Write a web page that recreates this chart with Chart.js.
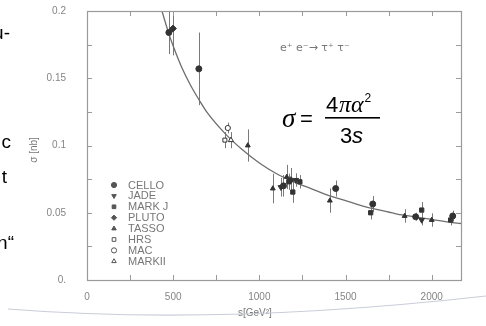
<!DOCTYPE html>
<html>
<head>
<meta charset="utf-8">
<script src="https://cdn.jsdelivr.net/npm/chart.js@4.4.1/dist/chart.umd.min.js"></script>
<style>
  html, body { margin: 0; padding: 0; background: #fff; }
  canvas { display: block; }
</style>
</head>
<body>
<canvas id="chart" width="486" height="326"></canvas>
<script>
// tick labels
const xLabels = [0, 500, 1000, 1500, 2000];
const yLabels = ['0.', '0.05', '0.1', '0.15', '0.2'];

// experiments: s [GeV^2], sigma [nb], error [nb]
const celloS = [475, 649, 1140, 1443, 1658, 1907, 2122];
const celloSig = [0.184, 0.157, 0.070, 0.068, 0.0565, 0.047, 0.0476];
const celloErr = [0.016, 0.027, 0.008, 0.006, 0.006, 0.003, 0.004];

const jadeS = [1125, 1212, 1942];
const jadeSig = [0.069, 0.0743, 0.0446];
const jadeErr = [0.007, 0.005, 0.004];

const markjS = [1171, 1194, 1235, 1646, 1942, 2110];
const markjSig = [0.073, 0.0654, 0.073, 0.050, 0.052, 0.0446];
const markjErr = [0.006, 0.008, 0.005, 0.005, 0.006, 0.004];

const plutoS = [499, 1183];
const plutoSig = [0.187, 0.0743];
const plutoErr = [0.02, 0.009];

const tassoS = [933, 1078, 1159, 1409, 1843, 2000];
const tassoSig = [0.100, 0.068, 0.0766, 0.059, 0.0476, 0.0446];
const tassoErr = [0.012, 0.011, 0.009, 0.009, 0.005, 0.005];

const hrsS = [800];
const hrsSig = [0.104];
const hrsErr = [0.006];

const macS = [817];
const macSig = [0.113];
const macErr = [0.004];

const mark2S = [835];
const mark2Sig = [0.104];
const mark2Err = [0.006];

// theory curve
const curveS = [435, 475, 500, 550, 600, 650, 700, 800, 900, 1000, 1100, 1200, 1300, 1400, 1500, 1600, 1700, 1800, 1900, 2000, 2100, 2170];
const curveSig = [0.2, 0.183, 0.174, 0.158, 0.145, 0.134, 0.124, 0.109, 0.097, 0.087, 0.079, 0.073, 0.068, 0.063, 0.059, 0.055, 0.052, 0.049, 0.047, 0.045, 0.043, 0.042];

const INK = '#333';
const GREY = '#858585';

function pts(xs, ys, es) {
  return xs.map((x, i) => ({ x: x, y: ys[i], e: es[i] }));
}

const experiments = [
  { label: 'CELLO', data: pts(celloS, celloSig, celloErr), pointStyle: 'circle', fill: true, r: 3, rot: 0 },
  { label: 'JADE', data: pts(jadeS, jadeSig, jadeErr), pointStyle: 'triangle', fill: true, r: 3.2, rot: 180 },
  { label: 'MARK J', data: pts(markjS, markjSig, markjErr), pointStyle: 'rect', fill: true, r: 3, rot: 0 },
  { label: 'PLUTO', data: pts(plutoS, plutoSig, plutoErr), pointStyle: 'rectRot', fill: true, r: 3.4, rot: 0 },
  { label: 'TASSO', data: pts(tassoS, tassoSig, tassoErr), pointStyle: 'triangle', fill: true, r: 2.8, rot: 0 },
  { label: 'HRS', data: pts(hrsS, hrsSig, hrsErr), pointStyle: 'rect', fill: false, r: 2.8, rot: 0 },
  { label: 'MAC', data: pts(macS, macSig, macErr), pointStyle: 'circle', fill: false, r: 2.6, rot: 0 },
  { label: 'MARKII', data: pts(mark2S, mark2Sig, mark2Err), pointStyle: 'triangle', fill: false, r: 3, rot: 0 }
];

const datasets = experiments.map(ex => ({
  type: 'scatter',
  label: ex.label,
  data: ex.data,
  pointStyle: ex.pointStyle,
  pointRadius: ex.r,
  rotation: ex.rot,
  backgroundColor: ex.fill ? INK : '#fff',
  borderColor: INK,
  borderWidth: 1
}));

datasets.push({
  type: 'line',
  label: 'theory',
  data: curveS.map((s, i) => ({ x: s, y: curveSig[i] })),
  borderColor: '#6e6e6e',
  borderWidth: 1.3,
  pointRadius: 0,
  fill: false,
  cubicInterpolationMode: 'monotone'
});

const decor = {
  id: 'decor',
  beforeDatasetsDraw(chart) {
    const ctx = chart.ctx, a = chart.chartArea;
    const xs = chart.scales.x, ys = chart.scales.y;
    ctx.save();
    ctx.beginPath();
    ctx.rect(a.left, a.top, a.right - a.left, a.bottom - a.top);
    ctx.clip();
    ctx.strokeStyle = '#7a7a7a';
    ctx.lineWidth = 1;
    experiments.forEach(ex => ex.data.forEach(p => {
      const px = Math.round(xs.getPixelForValue(p.x)) + 0.5;
      ctx.beginPath();
      ctx.moveTo(px, ys.getPixelForValue(p.y + p.e));
      ctx.lineTo(px, ys.getPixelForValue(p.y - p.e));
      ctx.stroke();
    }));
    ctx.restore();
  },
  afterDraw(chart) {
    const ctx = chart.ctx, a = chart.chartArea;
    const xs = chart.scales.x, ys = chart.scales.y;
    ctx.save();
    // frame
    ctx.strokeStyle = '#9a9a9a';
    ctx.lineWidth = 1.2;
    ctx.strokeRect(a.left + 0.5, a.top + 0.5, a.right - a.left, a.bottom - a.top);
    // inward ticks
    ctx.lineWidth = 1;
    xs.ticks.forEach(t => {
      const px = Math.round(xs.getPixelForValue(t.value)) + 0.5;
      ctx.beginPath();
      ctx.moveTo(px, a.bottom); ctx.lineTo(px, a.bottom - 5);
      ctx.moveTo(px, a.top); ctx.lineTo(px, a.top + 5);
      ctx.stroke();
    });
    ys.ticks.forEach(t => {
      const py = Math.round(ys.getPixelForValue(t.value)) + 0.5;
      ctx.beginPath();
      ctx.moveTo(a.left, py); ctx.lineTo(a.left + 5, py);
      ctx.moveTo(a.right, py); ctx.lineTo(a.right - 5, py);
      ctx.stroke();
    });

    // legend
    ctx.font = '11px "Liberation Sans", Arial, sans-serif';
    ctx.textBaseline = 'middle';
    experiments.forEach((ex, i) => {
      const y = 185 + i * 10.9;
      ctx.fillStyle = ex.fill ? '#555' : '#fff';
      ctx.strokeStyle = '#555';
      ctx.lineWidth = 1;
      Chart.helpers.drawPoint(ctx, {
        pointStyle: ex.pointStyle, radius: 2.6, rotation: ex.rot, borderWidth: 1
      }, 114, y);
      ctx.fillStyle = '#777';
      ctx.fillText(ex.label, 128, y + 0.5);
    });

    // process label
    ctx.fillStyle = '#777';
    ctx.font = '11px "DejaVu Sans", sans-serif';
    ctx.textBaseline = 'alphabetic';
    ctx.fillText('e\u207A e\u207B\u2192 \u03C4\u207A \u03C4\u207B', 280, 51);

    // formula
    ctx.fillStyle = '#000';
    ctx.font = 'italic 27px "Liberation Serif", serif';
    ctx.fillText('\u03C3', 282, 127);
    ctx.font = '22px "Liberation Sans", Arial, sans-serif';
    ctx.fillText('=', 300, 126);
    ctx.fillText('4', 326, 112);
    ctx.font = 'italic 24px "Liberation Serif", serif';
    ctx.fillText('\u03C0\u03B1', 339, 112);
    const w = ctx.measureText('\u03C0\u03B1').width;
    ctx.font = '12px "Liberation Sans", Arial, sans-serif';
    ctx.fillText('2', 339 + w + 1, 102);
    ctx.fillRect(325, 117, 55, 1.6);
    ctx.font = '22px "Liberation Sans", Arial, sans-serif';
    ctx.fillText('3', 340, 143);
    ctx.font = 'italic 22px "Liberation Sans", Arial, sans-serif';
    ctx.fillText('s', 352, 143);

    // axis titles
    ctx.fillStyle = '#777';
    ctx.font = '10px "Liberation Sans", Arial, sans-serif';
    ctx.fillText('s[GeV\u00B2]', 238, 316);
    ctx.save();
    ctx.translate(37, 150);
    ctx.rotate(-Math.PI / 2);
    ctx.textAlign = 'center';
    ctx.fillText('\u03C3 [nb]', 0, 0);
    ctx.restore();

    // cut-off slide text on the left
    ctx.fillStyle = '#000';
    ctx.textAlign = 'right';
    ctx.font = '19px "Liberation Sans", Arial, sans-serif';
    ctx.fillText('u-', 10, 39);
    ctx.fillText('c', 11, 148);
    ctx.fillText('t', 7, 183);
    ctx.fillText('n\u201C', 14, 249);

    // slide decoration line
    ctx.strokeStyle = '#c9cdd8';
    ctx.lineWidth = 1.2;
    ctx.beginPath();
    ctx.moveTo(8, 309);
    ctx.quadraticCurveTo(220, 326, 486, 296);
    ctx.stroke();
    ctx.restore();
  }
};

new Chart(document.getElementById('chart'), {
  data: { datasets: datasets },
  options: {
    responsive: false,
    animation: false,
    devicePixelRatio: 1,
    layout: { padding: { top: 11, right: 25, left: 0, bottom: 0 } },
    plugins: { legend: { display: false }, tooltip: { enabled: false } },
    scales: {
      x: {
        type: 'linear',
        min: 0,
        max: 2170,
        grid: { display: false },
        border: { display: false },
        afterFit: s => { s.height = 46; s.paddingLeft = 0; s.paddingRight = 0; },
        ticks: {
          stepSize: 250,
          includeBounds: false,
          padding: 3,
          maxRotation: 0,
          autoSkip: false,
          color: GREY,
          font: { family: '"Liberation Sans", Arial, sans-serif', size: 10 },
          callback: v => xLabels.includes(v) ? String(v) : ''
        }
      },
      y: {
        type: 'linear',
        min: 0,
        max: 0.2,
        grid: { display: false },
        border: { display: false },
        afterFit: s => { s.width = 87; s.paddingTop = 0; s.paddingBottom = 0; },
        ticks: {
          stepSize: 0.025,
          padding: 13,
          autoSkip: false,
          color: GREY,
          font: { family: '"Liberation Sans", Arial, sans-serif', size: 10 },
          callback: v => {
            const m = Math.round(v * 1000);
            return m % 50 === 0 ? yLabels[m / 50] : '';
          }
        }
      }
    }
  },
  plugins: [decor]
});
</script>
</body>
</html>
